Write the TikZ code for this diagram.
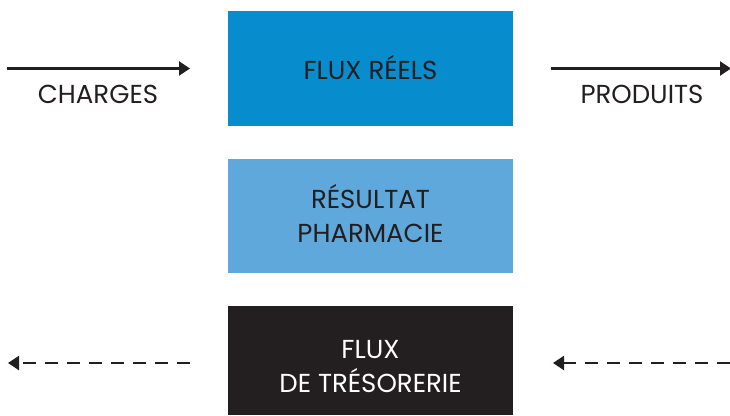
\documentclass[tikz,border=0pt]{standalone}
\usepackage{fontspec}
\setmainfont{Poppins}
\usetikzlibrary{arrows.meta}
\definecolor{fluxblue}{HTML}{078DCE}
\definecolor{resblue}{HTML}{5FA8DB}
\definecolor{darkbox}{HTML}{231F20}
\definecolor{txt}{HTML}{231F20}
\tikzset{
  box/.style={minimum width=285pt, inner sep=0pt},
  boxtext/.style={align=center, inner sep=0pt, font=\fontsize{26}{34}\selectfont},
  lbl/.style={text=txt, font=\fontsize{26}{34}\selectfont, inner sep=0pt},
  flow/.style={line width=2.4pt, draw=txt, -{Triangle[length=11pt,width=14pt]}},
  cash/.style={flow, dash pattern=on 13pt off 9pt}
}
\begin{document}
\begin{tikzpicture}[x=1pt,y=-1pt]
\useasboundingbox (0,0) rectangle (730,415);
\node[box, fill=fluxblue, minimum height=115pt] (reel) at (370.5,68.5) {};
\node[box, fill=resblue, minimum height=114pt] (res) at (370.5,216) {};
\node[box, fill=darkbox, minimum height=109pt] (tres) at (370.5,360.5) {};
\node[boxtext, text=txt, anchor=base] (reeltxt) at (370.5,79) {FLUX RÉELS};
\node[boxtext, text=txt, anchor=base] (restxt) at (370.5,242) {RÉSULTAT\\PHARMACIE};
\node[boxtext, text=white, anchor=base] (trestxt) at (370.5,392) {FLUX\\DE TRÉSORERIE};
\coordinate (c1) at (7,68.5);
\coordinate (c2) at (190,68.5);
\coordinate (p1) at (551,68.5);
\coordinate (p2) at (731,68.5);
\node[lbl, anchor=base] (charges) at (98,103) {CHARGES};
\node[lbl, anchor=base] (produits) at (642,103) {PRODUITS};
\draw[flow] (c1) -- (c2);
\draw[flow] (p1) -- (p2);
\coordinate (t1) at (190,363);
\coordinate (t2) at (8,363);
\coordinate (u1) at (730,363);
\coordinate (u2) at (553,363);
\draw[cash] (t1) -- (t2);
\draw[cash] (u1) -- (u2);
\end{tikzpicture}
\end{document}
